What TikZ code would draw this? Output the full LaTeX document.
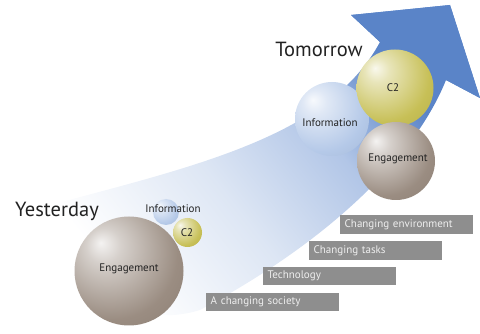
\documentclass[tikz,border=0pt]{standalone}
\usepackage{fontspec}
\setmainfont{PT Sans}
\definecolor{swA}{HTML}{DDE6F4}
\definecolor{swB}{HTML}{B2C6E7}
\definecolor{swC}{HTML}{5A84C8}
\definecolor{headblue}{HTML}{5A84C8}
\definecolor{barg}{HTML}{8E8E8E}
\definecolor{bartext}{HTML}{EEEEEE}
\definecolor{infoc}{HTML}{AEC4E6}
\definecolor{c2c}{HTML}{C2BA48}
\definecolor{engc}{HTML}{928377}
\definecolor{labtext}{HTML}{222222}
\colorlet{spc}{engc}
\pgfdeclarehorizontalshading[swA,swB,swC]{swoosh}{100bp}{color(0bp)=(white); color(26bp)=(white); color(44bp)=(swA); color(59bp)=(swB); color(71bp)=(swC); color(100bp)=(swC)}
\pgfdeclareradialshading[spc]{orb}{\pgfpoint{-13bp}{13bp}}{color(0bp)=(spc!10!white); color(8bp)=(spc!38!white); color(30bp)=(spc!92!white); color(55bp)=(spc!88!black); color(75bp)=(spc!72!black)}
\tikzset{
  orbcol/.style={/utils/exec={\colorlet{spc}{#1}}},
  orbnode/.style={circle, minimum size=#1, inner sep=0pt, shading=orb},
  lab/.style={font=\fontsize{11}{12}\selectfont, text=labtext, inner sep=0pt},
  bigtxt/.style={font=\fontsize{20.5}{24}\selectfont, text=labtext, inner sep=0pt},
  bar/.style={fill=barg, text=bartext, font=\fontsize{11}{13}\selectfont, minimum height=18.5pt, text width=124pt, inner xsep=4.5pt, inner ysep=0pt, align=left, anchor=north west}
}
\begin{document}
\begin{tikzpicture}[x=1pt,y=-1pt]
\path[use as bounding box] (0,0) rectangle (480,334);
% swoosh arrow
\shade[shading=swoosh, shading angle=38] (50,205) .. controls (200,165) and (330,135) .. (380,42) -- (351,15) -- (450,5) -- (480,98) -- (446,80) .. controls (418,150) and (340,235) .. (200,310) .. controls (120,335) and (55,265) .. (50,205) -- cycle;
\fill[headblue] (380,42) -- (351,15) -- (450,5) -- (480,98) -- (446,80) -- cycle;
% tomorrow spheres
\node[orbcol=infoc, orbnode=74pt] (infoT) at (332,119) {};
\node[orbcol=c2c, orbnode=77pt] (c2T) at (395,88) {};
\node[orbcol=engc, orbnode=78pt] (engT) at (396,161) {};
\node[lab] (infoTl) at (330,123) {Information};
\node[lab] (c2Tl) at (393,88) {C2};
\node[lab] (engTl) at (398,159) {Engagement};
% yesterday spheres
\node[orbcol=engc, orbnode=109pt] (engY) at (129,271) {};
\node[orbcol=infoc, orbnode=26pt] (infoY) at (166,212) {};
\node[orbcol=c2c, orbnode=29pt] (c2Y) at (187.5,232.5) {};
\node[lab] (infoYl) at (173,209) {Information};
\node[lab] (c2Yl) at (187,233) {C2};
\node[lab] (engYl) at (129,269) {Engagement};
% titles
\node[bigtxt] (tom) at (319,49) {Tomorrow};
\node[bigtxt] (yes) at (57,211) {Yesterday};
% bars
\node[bar] (b1) at (340,215) {Changing environment};
\node[bar] (b2) at (309,241) {Changing tasks};
\node[bar] (b3) at (263,266.5) {Technology};
\node[bar] (b4) at (206,292.5) {A changing society};
\end{tikzpicture}
\end{document}
